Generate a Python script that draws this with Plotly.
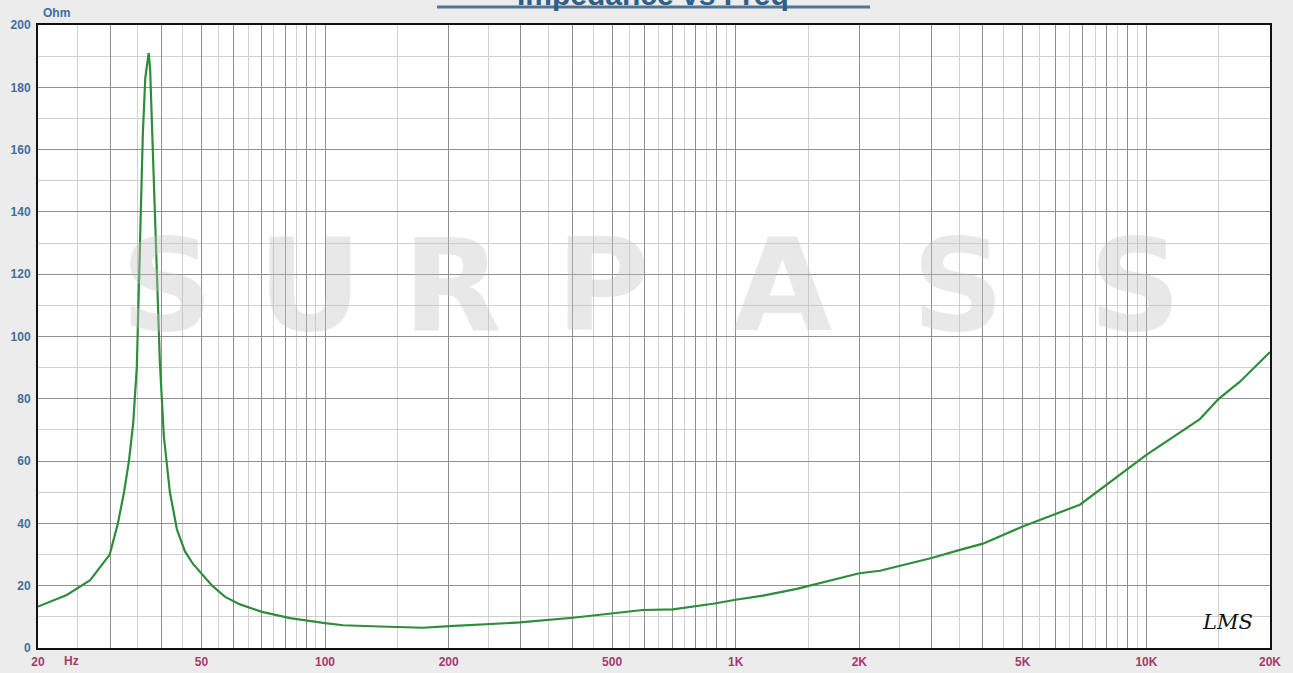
import plotly.graph_objects as go

# ---- data ----
freq_hz = [20, 23.5, 26.8, 28.3, 29.9, 31.3, 32.4, 33.3, 34.1, 34.8, 35.1, 35.4, 36.0, 36.5,
           37.0, 37.2, 37.5, 37.9, 38.4, 38.8, 39.1, 39.6, 40.5, 41.9, 43.6, 45.6, 47.7, 50,
           53.1, 57.1, 62.1, 70.2, 82.2, 100, 110.6, 136, 173, 201, 298, 401, 502, 594,
           703, 880, 1000, 1165, 1409, 1696, 2000, 2245, 3000, 3516, 4000, 5000, 6888,
           10000, 13500, 15000, 16900, 20000]
impedance_ohm = [13.3, 17, 21.8, 26, 30, 40, 50, 60, 72, 90, 110, 130, 165, 183,
                 190, 191, 186, 168, 145, 128, 115, 92, 68, 50, 38, 31, 27, 24,
                 20, 16.4, 14, 11.6, 9.6, 8.0, 7.3, 6.9, 6.5, 7.0, 8.2, 9.7, 11, 12.2,
                 12.4, 14.2, 15.5, 16.8, 19, 21.6, 24, 24.8, 28.9, 31.5, 33.5, 39, 46,
                 62, 73.5, 80, 85.5, 95]

x_major = [20, 30, 40, 50, 60, 70, 80, 90, 100, 200, 300, 400, 500, 600, 700, 800, 900,
           1000, 2000, 3000, 4000, 5000, 6000, 7000, 8000, 9000, 10000, 20000]
x_minor = [25, 35, 45, 55, 65, 75, 85, 95, 150, 250, 350, 450, 550, 650, 750, 850, 950,
           1500, 2500, 3500, 4500, 5500, 6500, 7500, 8500, 9500, 15000]
x_labels = {20: "20", 50: "50", 100: "100", 200: "200", 500: "500", 1000: "1K",
            2000: "2K", 5000: "5K", 10000: "10K", 20000: "20K"}
y_ticks = [0, 20, 40, 60, 80, 100, 120, 140, 160, 180, 200]

title_text = "Impedance vs Freq"
watermark_letters = ["S", "U", "R", "P", "A", "S", "S"]

W, H = 1293, 673
L, R, T, B = 38, 23, 25, 25
pw, ph = W - L - R, H - T - B


def px(xp):
    return (xp - L) / pw


def py(yp):
    return (H - B - yp) / ph


fig = go.Figure()
fig.add_trace(go.Scatter(
    x=freq_hz, y=impedance_ohm, mode="lines",
    line=dict(color="#2f8c3c", width=2.2), hoverinfo="skip", showlegend=False))

lab_font = dict(family="Liberation Sans, Arial, sans-serif", size=12, weight="bold")

fig.update_layout(
    width=W, height=H,
    margin=dict(l=L, r=R, t=T, b=B, pad=0, autoexpand=False),
    paper_bgcolor="#ececec", plot_bgcolor="#ffffff",
    showlegend=False,
    xaxis=dict(
        type="log", range=[1.30103, 4.30103],
        tickmode="array", tickvals=x_major,
        ticktext=[x_labels.get(v, "") for v in x_major],
        ticks="", showgrid=True, gridcolor="#8f8f8f", gridwidth=1,
        minor=dict(tickmode="array", tickvals=x_minor, showgrid=True,
                   gridcolor="#d0d0d0", gridwidth=1, ticks=""),
        tickfont=dict(color="#a33a6e", **lab_font),
        showline=True, linecolor="#111111", linewidth=2, mirror=True,
        zeroline=False, fixedrange=True, ticklabelstandoff=2, automargin=False,
    ),
    yaxis=dict(
        range=[0, 200], tickmode="array", tickvals=y_ticks,
        ticks="", showgrid=True, gridcolor="#8f8f8f", gridwidth=1,
        minor=dict(dtick=10, showgrid=True, gridcolor="#d0d0d0", gridwidth=1, ticks=""),
        tickfont=dict(color="#3f6f9c", **lab_font),
        showline=True, linecolor="#111111", linewidth=2, mirror=True,
        zeroline=False, fixedrange=True, ticklabelstandoff=3, automargin=False,
    ),
)

# watermark letters
wm_centers = [167, 310, 452, 603, 782, 958, 1135]
for ch, xc in zip(watermark_letters, wm_centers):
    fig.add_annotation(
        xref="paper", yref="paper", x=px(xc), y=py(285),
        text=ch, showarrow=False, xanchor="center", yanchor="middle",
        font=dict(family="DejaVu Sans", size=128, weight="bold",
                  color="rgba(195,195,195,0.38)"))

# axis unit labels
fig.add_annotation(xref="paper", yref="paper", x=px(41), y=py(13), text="Ohm",
                   showarrow=False, xanchor="left", yanchor="middle",
                   font=dict(color="#3f6f9c", **lab_font))
fig.add_annotation(xref="paper", yref="paper", x=px(62), y=py(661), text="Hz",
                   showarrow=False, xanchor="left", yanchor="middle",
                   font=dict(color="#a33a6e", **lab_font))

# LMS signature
fig.add_annotation(xref="paper", yref="paper", x=px(1227), y=py(622), text="LMS",
                   showarrow=False, xanchor="center", yanchor="middle",
                   font=dict(family="DejaVu Serif", size=21, style="italic", color="#111111"))

# title (cut off at the top edge of the image, as in the reference)
fig.add_annotation(xref="paper", yref="paper", x=px(653), y=py(13), text=title_text,
                   showarrow=False, xanchor="center", yanchor="bottom",
                   font=dict(family="Liberation Sans, Arial", size=30, weight="bold",
                             color="#2f5f8a"))
fig.add_shape(type="line", xref="paper", yref="paper", x0=px(437), x1=px(870),
              y0=py(7), y1=py(7), line=dict(color="#4d7597", width=3))

fig.write_html("out.html", config={"displayModeBar": False},
               post_script="document.body.style.margin='0';document.body.style.overflow='hidden';")
